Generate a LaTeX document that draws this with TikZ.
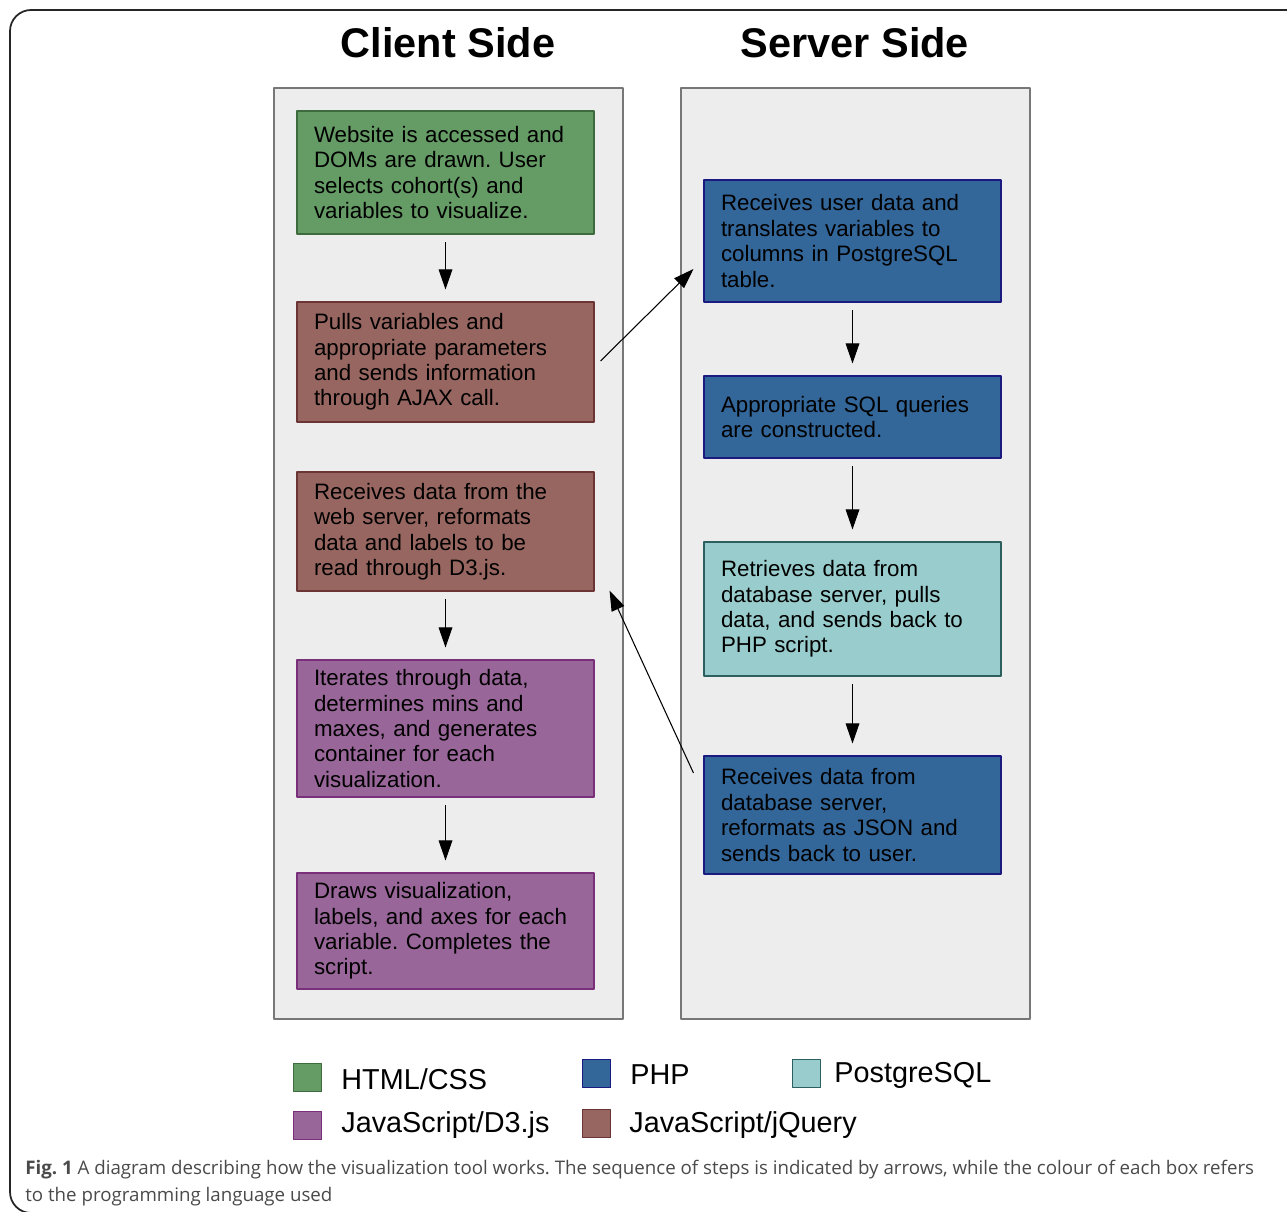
\documentclass[tikz,border=0pt]{standalone}
\usepackage{fontspec}
\setmainfont{Liberation Sans}
\newfontfamily\capfont{Open Sans}
\usetikzlibrary{arrows.meta,calc}
\definecolor{panelfill}{HTML}{EDEDED}
\definecolor{panelline}{HTML}{777777}
\definecolor{htmlfill}{HTML}{659B65}
\definecolor{htmlline}{HTML}{3D6B3D}
\definecolor{jqfill}{HTML}{986660}
\definecolor{jqline}{HTML}{6B3535}
\definecolor{dthreefill}{HTML}{996699}
\definecolor{dthreeline}{HTML}{7A2F7A}
\definecolor{phpfill}{HTML}{336699}
\definecolor{phpline}{HTML}{1A1A80}
\definecolor{sqlfill}{HTML}{99CCCC}
\definecolor{sqlline}{HTML}{2D5F5F}
\definecolor{captext}{HTML}{4A4A4A}
\frenchspacing
\begin{document}
\begin{tikzpicture}[x=0.02cm,y=-0.02cm,>={Triangle[length=11.5pt,width=7.8pt]},
    line join=round,
    panel/.style={draw=panelline,fill=panelfill,line width=0.9pt},
    stepbox/.style={draw,line width=0.6pt,minimum width=297*0.02cm,text width=263*0.02cm,
        inner xsep=17*0.02cm,inner ysep=0pt,align=left,
        font=\fontsize{12.7}{14.5}\selectfont},
    flow/.style={->,line width=0.6pt,shorten <=4.5pt,shorten >=6.8pt},
    swatch/.style={draw,line width=0.8pt,minimum size=28*0.02cm,inner sep=0pt},
    key/.style={anchor=west,inner sep=0pt,font=\fontsize{16.4}{19}\selectfont}]
    \useasboundingbox (0,0) rectangle (1287,1212);
    % frame
    \draw[line width=1pt,color=black!85,rounded corners=12] (1300,10) -- (10,10) -- (10,1213) -- (26,1213);
    % titles
    \node[anchor=base,font=\fontsize{23.6}{28}\selectfont\bfseries] (tclient) at (448,58) {Client Side};
    \node[anchor=base,font=\fontsize{23.6}{28}\selectfont\bfseries] (tserver) at (855,58) {Server Side};
    % panels
    \draw[panel] (274,88) rectangle (623,1019);
    \draw[panel] (681,88) rectangle (1030,1019);
    % client side
    \node[stepbox,fill=htmlfill,draw=htmlline,minimum height=123*0.02cm] (c1) at (445.5,172.5)
        {Website is accessed and\\DOMs are drawn. User\\selects cohort(s) and\\variables to visualize.};
    \node[stepbox,fill=jqfill,draw=jqline,minimum height=120*0.02cm] (c2) at (445.5,362)
        {Pulls variables and\\appropriate parameters\\and sends information\\through AJAX call.};
    \node[stepbox,fill=jqfill,draw=jqline,minimum height=119*0.02cm] (c3) at (445.5,531.5)
        {Receives data from the\\web server, reformats\\data and labels to be\\read through D3.js.};
    \node[stepbox,fill=dthreefill,draw=dthreeline,minimum height=137*0.02cm] (c4) at (445.5,728.5)
        {Iterates through data,\\determines mins and\\maxes, and generates\\container for each\\visualization.};
    \node[stepbox,fill=dthreefill,draw=dthreeline,minimum height=116*0.02cm] (c5) at (445.5,931)
        {Draws visualization,\\labels, and axes for each\\variable. Completes the\\script.};
    % server side
    \node[stepbox,fill=phpfill,draw=phpline,minimum height=122*0.02cm] (s1) at (852.5,241)
        {Receives user data and\\translates variables to\\columns in PostgreSQL\\table.};
    \node[stepbox,fill=phpfill,draw=phpline,minimum height=82*0.02cm] (s2) at (852.5,417)
        {Appropriate SQL queries\\are constructed.};
    \node[stepbox,fill=sqlfill,draw=sqlline,minimum height=134*0.02cm] (s3) at (852.5,609)
        {Retrieves data from\\database server, pulls\\data, and sends back to\\PHP script.};
    \node[stepbox,fill=phpfill,draw=phpline,minimum height=118*0.02cm,inner xsep=15*0.02cm] (s4) at (852.5,815)
        {Receives data from\\database server,\\reformats as JSON and\\sends back to user.};
    % arrows
    \draw[flow] (c1) -- (c2);
    \draw[flow] (c3) -- (c4);
    \draw[flow] (c4) -- (c5);
    \draw[flow] (s1) -- (s2);
    \draw[flow] (s2) -- (s3);
    \draw[flow] (s3) -- (s4);
    \draw[->,line width=0.6pt] ($(c2.east)+(6,-1)$) -- ($(s1.west)+(-10,28)$);
    \draw[->,line width=0.6pt] ($(s4.west)+(-10,-42)$) -- ($(c3.south east)+(15,-1)$);
    % legend
    \node[swatch,fill=htmlfill,draw=htmlline] (k1) at (307.5,1077.5) {};
    \node[key] (l1) at (341,1079) {HTML/CSS};
    \node[swatch,fill=phpfill,draw=phpline] (k2) at (596.5,1073.5) {};
    \node[key] (l2) at (630,1075) {PHP};
    \node[swatch,fill=sqlfill,draw=sqlline] (k3) at (806.5,1073.5) {};
    \node[key] (l3) at (834,1075) {PostgreSQL};
    \node[swatch,fill=dthreefill,draw=dthreeline] (k4) at (307.5,1125.5) {};
    \node[key] (l4) at (341,1125) {JavaScript/D3.js};
    \node[swatch,fill=jqfill,draw=jqline] (k5) at (596.5,1123.5) {};
    \node[key] (l5) at (629,1125) {JavaScript/jQuery};
    % caption
    \node[anchor=base west,inner sep=0pt,text=captext,font=\capfont\fontsize{10.65}{12}\selectfont] (cap1) at (25,1174)
        {\textbf{Fig. 1} A diagram describing how the visualization tool works. The sequence of steps is indicated by arrows, while the colour of each box refers};
    \node[anchor=base west,inner sep=0pt,text=captext,font=\capfont\fontsize{10.65}{12}\selectfont] (cap2) at (25,1201)
        {to the programming language used};
\end{tikzpicture}
\end{document}
